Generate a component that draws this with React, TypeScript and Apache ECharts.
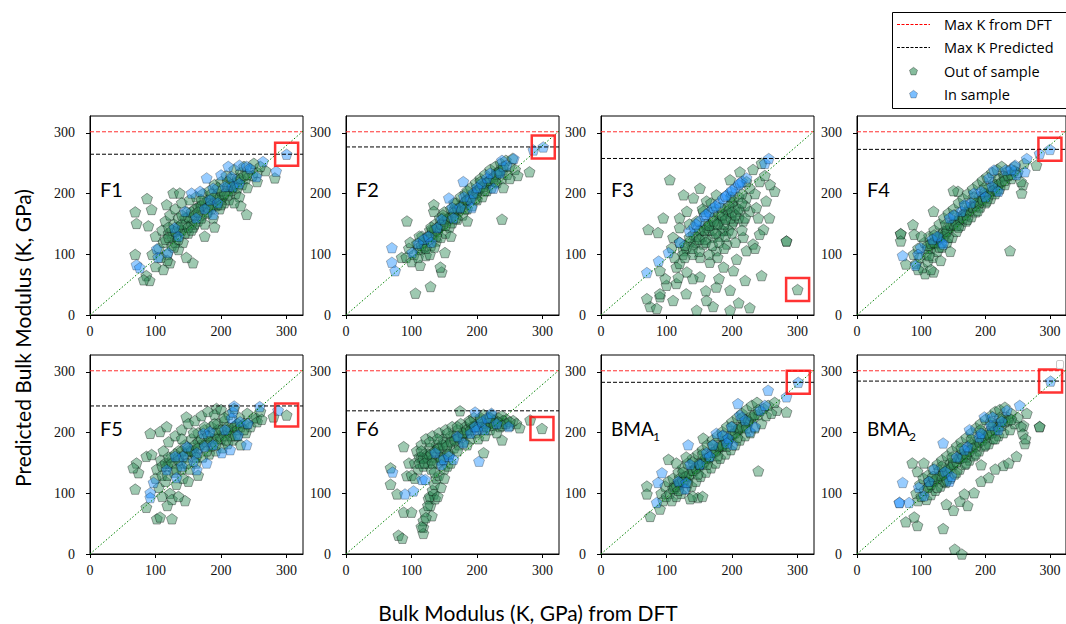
import React, { useEffect, useRef } from "react";
import * as echarts from "echarts";

// ---------------- DATA ----------------
const f1Out = [[87,192],[69,170],[71,151],[89,147],[94,174],[69,100],[86,65],[91,57],[82,58],[157,86],[147,95],[122,86],[239,166],[282,226],[127,201],[137,201],[117,182],[268,238],[255,220],
[100,130],[105,110],[110,140],[112,120],[115,155],[118,100],[120,135],[122,165],[125,115],[128,150],[130,175],[132,130],[135,160],[138,140],[140,185],[142,120],[145,150],[148,170],[150,135],[152,190],[155,160],[158,145],[160,175],[162,195],[165,155],[168,180],[170,165],[172,200],[175,150],[178,185],[180,170],[182,205],[185,190],[188,160],[190,215],[192,180],[195,200],[198,175],[200,220],[202,195],[205,185],[208,230],[210,205],[212,190],[215,225],[218,210],[220,240],[222,200],[225,220],[228,195],[230,235],[232,215],[235,245],[238,225],[240,210],[245,240],[248,230],[250,250],[255,235],[260,245],[112,75],[118,90],[108,95],[135,108],[175,130],[190,145],[230,180],[220,185],[100,80],[95,100],[125,130],[140,140],[155,150],[170,160],[185,175],[200,190],[215,205],[130,120],[145,135],[160,150],[178,168],[195,182],[210,198]];
const f1Core = [[115,125],[120,128],[125,140],[130,138],[135,145],[140,150],[145,160],[150,162],[155,170],[160,165],[165,178],[170,180],[175,185],[180,190],[185,182],[190,195],[195,192],[200,205],[205,200],[210,212],[215,215],[220,218],[225,225],[230,225],[235,230],[240,232],[120,145],[135,125],[150,145],[165,170],[180,178],[195,210],[210,220],[225,210],[140,165],[155,140],[170,190],[185,200],[200,182],[128,112]];
const f1In = [[71,83],[76,78],[102,109],[104,95],[119,103],[129,144],[135,130],[155,201],[168,204],[183,190],[188,209],[200,231],[211,245],[228,247],[239,245],[244,242],[254,228],[216,228],[218,212],[228,217],[206,212],[178,226],[188,166],[162,160],[145,171],[284,237],[264,253],[300,265],[195,185],[175,175]];

const f2Out = [[106,36],[129,47],[93,155],[134,182],[134,171],[238,158],[280,236],[151,103],[146,71],[144,79],[113,82],[111,111],[85,95],
[92,95],[96,110],[100,88],[104,100],[108,118],[110,95],[114,108],[116,130],[120,112],[122,98],[125,125],[128,140],[130,115],[133,130],[136,150],[138,122],[140,138],[143,160],[145,128],[148,148],[150,170],[152,135],[155,158],[158,145],[160,175],[162,152],[165,165],[168,185],[170,158],[172,172],[175,195],[178,165],[180,182],[182,200],[185,175],[188,192],[190,210],[192,180],[195,200],[198,218],[200,190],[203,208],[205,225],[208,195],[210,215],[212,232],[215,205],[218,222],[220,240],[222,210],[225,228],[228,245],[230,218],[233,235],[236,250],[238,225],[240,240],[244,255],[246,232],[250,245],[254,258],[258,240],[262,230],[128,100],[135,112],[112,130],[98,120],[240,210],[250,225],[185,155],[160,130],[118,120],[132,140],[148,160],[166,175],[184,190],[200,205],[216,220],[230,235],[142,145],[175,180]];
const f2Core = [[115,115],[120,125],[125,130],[130,132],[135,140],[140,145],[145,150],[150,155],[155,160],[160,162],[165,170],[170,175],[175,178],[180,185],[185,190],[190,195],[195,198],[200,202],[205,210],[210,212],[215,218],[220,222],[225,225],[230,232],[235,238],[240,245],[122,110],[138,130],[152,148],[168,160],[182,175],[198,192],[212,205],[228,220],[130,145],[148,165],[165,185],[185,205],[205,220]];
const f2In = [[70,111],[70,87],[75,73],[179,220],[157,193],[301,277],[286,272],[238,255],[256,258],[101,103],[118,125],[126,130],[139,144],[146,158],[164,160],[174,177],[190,190],[194,201],[207,217],[215,226],[220,234],[225,209],[235,234],[245,247],[192,177],[162,177],[110,118],[130,120],[180,195],[200,210]];

const f3Out = [[105,223],[72,141],[87,136],[95,160],[265,204],[257,160],[248,141],[245,65],[220,57],[283,122],[283,122],[300,42],[227,12],[197,8],[171,14],[161,24],[146,8],[110,24],[90,30],[75,14],[85,11],[70,27],[90,35],[100,49],[115,52],[115,79],[131,71],[151,63],[176,46],[197,41],[166,87],[187,79],[207,92],[202,73],[222,106],[232,117],[242,133],[217,128],[252,188],[242,220],[212,236],[197,223],[151,209],[141,193],[126,198],[161,188],[176,198],[131,171],[120,160],[108,111],[90,73],[126,106],[141,117],[156,117],[171,128],[187,139],[202,155],[212,171],[222,193],[192,117],[176,106],[151,95],[161,144],[146,155],[181,155],[192,171],[202,188],[171,171],[156,171],[136,122],[110,128],[120,144],[141,133],[151,139],[166,150],[217,155],[227,171],[237,177],[227,209],[222,220],
[150,140],[160,150],[170,160],[180,165],[190,175],[200,185],[165,140],[175,150],[185,160],[195,168],[205,178],[155,130],[145,120],[185,140],[200,150],[210,195],[215,200],[130,110],[125,100],[140,100],[120,120],[135,150],[170,140],[180,130],[195,140],[210,160],[220,180],[235,200],[240,160],[250,230],[258,215],[232,240],[245,250],[180,60],[160,40],[140,60],[130,35],[120,85],[98,60],[210,20],[235,110],[160,125],[175,135],[188,150],[198,160],[128,95],[112,95],[118,62]];
const f3Core = [[145,130],[150,125],[158,140],[165,148],[172,155],[178,150],[185,165],[190,158],[195,180],[200,170],[205,165],[210,175],[215,185],[160,120],[170,115],[180,120],[190,130],[200,135],[140,110],[150,105],[165,100],[178,95],[188,110],[205,120],[215,140],[220,160],[155,175],[168,185],[182,178],[198,195],[135,128],[128,115]];
const f3In = [[70,70],[88,89],[103,103],[120,120],[135,138],[142,145],[150,155],[158,163],[165,170],[172,177],[180,185],[186,192],[192,198],[198,203],[205,210],[210,215],[215,220],[222,226],[250,250],[256,258],[145,150],[160,166],[175,180],[190,196],[200,206],[212,218]];

const f4Out = [[68,134],[68,134],[68,122],[87,149],[89,133],[76,84],[106,68],[119,71],[238,106],[279,247],[256,201],[258,215],[119,171],[157,204],
[88,100],[92,85],[95,110],[98,95],[102,78],[105,120],[108,100],[110,88],[112,130],[115,110],[118,95],[120,140],[122,118],[125,105],[128,150],[130,128],[132,112],[135,160],[138,135],[140,120],[142,168],[145,145],[148,128],[150,175],[152,155],[155,138],[158,185],[160,162],[162,148],[165,192],[168,170],[170,155],[172,200],[175,178],[178,162],[180,208],[182,188],[185,170],[188,215],[190,195],[192,178],[195,222],[198,202],[200,185],[202,228],[205,210],[208,192],[210,235],[212,218],[215,200],[218,240],[220,225],[222,208],[225,245],[228,230],[230,215],[235,238],[240,225],[245,245],[250,235],[255,220],[260,250],[100,130],[95,75],[115,75],[150,205],[130,90],[145,105],[110,110],[125,125],[140,140],[155,155],[170,170],[185,185],[200,200],[215,215],[230,228],[118,120],[135,138],[165,165],[195,192]];
const f4Core = [[110,115],[115,118],[120,120],[125,128],[130,132],[135,130],[140,138],[145,148],[150,150],[155,148],[160,158],[165,160],[170,165],[175,172],[180,178],[185,180],[190,185],[195,190],[200,195],[205,198],[210,205],[215,208],[220,215],[225,220],[230,222],[235,230],[240,232],[245,238],[112,98],[128,112],[142,128],[158,145],[172,158],[188,172],[202,188],[218,205],[120,132],[138,150],[152,165],[168,180],[182,195],[198,210]];
const f4In = [[71,98],[91,82],[99,111],[117,125],[132,120],[134,117],[144,160],[162,171],[167,182],[177,185],[182,201],[193,204],[210,212],[205,226],[220,204],[213,239],[231,239],[246,247],[248,231],[264,258],[284,266],[300,273],[261,236],[95,100],[125,130],[150,165],[200,195],[240,240]];

const f5Out = [[69,107],[86,77],[102,58],[107,61],[125,58],[145,88],[92,199],[107,202],[117,210],[147,226],[71,150],[74,134],[66,142],[86,161],[94,164],[300,229],[280,226],[254,224],[193,240],
[100,125],[102,140],[105,110],[108,155],[110,130],[112,170],[115,120],[118,145],[120,185],[122,100],[125,160],[128,135],[130,195],[132,115],[135,170],[138,150],[140,205],[142,125],[145,180],[148,160],[150,215],[152,140],[155,190],[158,170],[160,220],[162,150],[165,200],[168,180],[170,228],[172,160],[175,205],[178,185],[180,235],[182,165],[185,210],[188,190],[190,230],[192,170],[195,215],[198,195],[200,238],[202,175],[205,220],[208,200],[210,182],[212,230],[215,205],[218,188],[220,240],[222,212],[225,195],[228,225],[230,180],[235,215],[238,200],[240,232],[245,210],[250,225],[255,218],[260,235],[262,222],[125,90],[118,80],[110,95],[135,95],[150,120],[165,130],[120,150],[135,160],[150,170],[165,185],[180,195],[195,205],[210,210],[225,215],[140,140],[160,165],[185,178],[200,190]];
const f5Core = [[110,145],[115,150],[120,160],[125,150],[130,165],[135,155],[140,170],[145,165],[150,175],[155,170],[160,180],[165,175],[170,190],[175,180],[180,195],[185,185],[190,200],[195,190],[200,205],[205,195],[210,205],[215,195],[220,210],[225,205],[230,210],[235,205],[240,215],[118,130],[132,140],[148,150],[162,160],[178,170],[192,180],[208,188],[222,195],[140,190],[158,200],[175,210],[190,215],[205,225]];
const f5In = [[92,101],[92,93],[97,118],[117,139],[132,126],[140,145],[142,161],[148,177],[163,167],[173,199],[175,177],[183,202],[188,180],[201,167],[206,205],[214,172],[216,224],[218,234],[226,196],[229,218],[239,180],[241,215],[259,243],[287,237],[163,139],[178,150],[130,161],[158,153],[220,244]];

const f6Out = [[80,31],[86,26],[88,69],[100,69],[78,99],[68,115],[68,142],[88,177],[96,150],[93,129],[174,236],[118,44],[118,34],[131,63],[129,80],[126,91],[134,99],[136,91],[299,207],[281,221],[238,188],[210,167],
[105,150],[108,170],[110,140],[112,160],[115,180],[118,145],[120,165],[122,190],[125,150],[128,175],[130,140],[132,195],[135,160],[138,180],[140,150],[142,200],[145,170],[148,190],[150,160],[152,205],[155,180],[158,165],[160,195],[162,210],[165,175],[168,190],[170,205],[172,180],[175,215],[178,195],[180,185],[182,210],[185,200],[188,220],[190,190],[192,210],[195,225],[198,200],[200,215],[202,190],[205,222],[208,205],[210,230],[212,195],[215,215],[218,225],[220,205],[222,230],[225,212],[228,220],[230,200],[232,225],[235,210],[238,228],[240,215],[245,222],[250,212],[255,220],[260,215],[265,208],
[120,70],[125,80],[128,95],[132,105],[135,115],[138,125],[142,130],[145,110],[140,95],[118,55],[122,60],[115,45],[150,140],[155,145],[160,150],[100,130],[105,125],[115,160],[125,165],[140,175],[150,185],[165,195],[180,200],[195,210],[210,212],[225,220],[240,220],[130,155],[145,160]];
const f6Core = [[112,150],[118,158],[124,160],[130,165],[136,170],[142,175],[148,180],[154,178],[160,185],[166,188],[172,192],[178,200],[184,205],[190,205],[196,210],[202,210],[208,215],[214,210],[220,218],[226,215],[232,218],[238,212],[244,215],[250,218],[120,150],[132,150],[145,155],[155,165],[170,170],[185,180],[115,170],[128,185],[140,190],[155,200],[170,210],[190,218],[205,225],[220,225],[135,135],[150,125]];
const f6In = [[71,135],[90,99],[103,104],[116,123],[121,123],[136,167],[146,147],[149,156],[157,161],[164,156],[179,183],[190,199],[197,210],[197,234],[200,205],[207,218],[215,224],[222,232],[230,215],[248,210],[203,153],[170,194],[212,205]];

const bma1Out = [[70,112],[70,99],[90,74],[75,62],[103,156],[240,137],[268,237],[283,234],[148,93],[136,91],[156,191],
[92,100],[95,88],[98,112],[100,95],[103,120],[105,100],[108,88],[110,125],[112,108],[115,95],[118,135],[120,115],[122,100],[125,142],[128,122],[130,108],[132,150],[135,130],[138,112],[140,158],[142,138],[145,120],[148,165],[150,145],[152,128],[155,172],[158,152],[160,135],[162,180],[165,160],[168,142],[170,188],[172,168],[175,150],[178,195],[180,175],[182,158],[185,202],[188,182],[190,165],[192,210],[195,190],[198,172],[200,218],[202,198],[205,180],[208,225],[210,205],[212,188],[215,232],[218,212],[220,195],[222,238],[225,218],[228,200],[230,245],[232,225],[235,208],[238,250],[240,230],[245,215],[248,240],[252,228],[255,245],[260,232],[265,250],[140,95],[155,95],[130,160],[115,150],[112,112],[128,128],[144,142],[160,158],[176,172],[192,188],[208,205],[224,220],[120,125],[150,150],[185,178]];
const bma1Core = [[110,108],[115,112],[120,118],[125,120],[130,128],[135,132],[140,138],[145,142],[150,148],[155,150],[160,158],[165,160],[170,168],[175,170],[180,178],[185,180],[190,188],[195,190],[200,198],[205,200],[210,208],[215,210],[220,218],[225,220],[230,228],[235,230],[240,238],[118,105],[132,118],[148,132],[162,148],[178,162],[192,178],[208,192],[222,208],[125,135],[140,152],[155,165],[170,180],[185,195],[200,210],[215,225]];
const bma1In = [[85,85],[87,118],[93,134],[118,120],[128,107],[130,118],[133,180],[136,148],[151,148],[161,167],[171,180],[176,199],[186,196],[194,191],[199,210],[201,180],[209,248],[212,229],[220,221],[227,202],[235,210],[243,237],[250,245],[255,270],[283,259],[301,283],[192,183],[166,161]];

const bma2Out = [[152,8],[163,0],[134,42],[76,53],[94,47],[89,61],[139,82],[150,72],[167,99],[172,80],[182,101],[160,87],[193,120],[205,126],[215,140],[228,146],[236,150],[248,161],[284,210],[284,210],[264,232],[261,182],[259,212],[86,150],[94,136],[104,150],[193,147],
[92,100],[95,88],[98,115],[100,95],[103,125],[105,105],[108,90],[110,130],[112,112],[115,98],[118,140],[120,120],[122,105],[125,148],[128,128],[130,112],[132,155],[135,135],[138,118],[140,162],[142,142],[145,125],[148,170],[150,150],[152,132],[155,178],[158,158],[160,140],[162,185],[165,165],[168,148],[170,192],[172,172],[175,155],[178,200],[180,180],[182,162],[185,208],[188,188],[190,170],[192,215],[195,195],[198,178],[200,222],[202,200],[205,182],[208,228],[210,208],[212,190],[215,235],[218,215],[220,195],[222,238],[225,220],[228,200],[230,242],[235,225],[238,205],[240,232],[245,215],[250,225],[255,210],[258,198],[262,190],[112,120],[128,138],[145,150],[162,165],[178,182],[195,198],[212,212],[228,225],[135,120],[170,160]];
const bma2Core = [[110,110],[115,115],[120,122],[125,125],[130,130],[135,132],[140,138],[145,142],[150,148],[155,152],[160,158],[165,160],[170,165],[175,170],[180,175],[185,178],[190,185],[195,188],[200,192],[205,198],[210,200],[215,205],[220,210],[225,212],[230,218],[235,220],[240,222],[118,128],[132,145],[148,160],[162,175],[178,190],[192,205],[208,218],[222,225],[125,110],[140,122],[155,135],[170,150],[185,165],[200,180],[215,190]];
const bma2In = [[71,118],[66,85],[66,85],[81,85],[104,96],[96,110],[112,120],[134,183],[137,136],[144,120],[147,128],[167,172],[172,177],[175,205],[190,193],[198,226],[208,212],[211,226],[220,205],[225,219],[233,237],[253,245],[301,285],[193,199],[120,140],[155,160]];

const panelNames = ["F1", "F2", "F3", "F4", "F5", "F6", "BMA", "BMA"];
const panelSubs = ["", "", "", "", "", "", "1", "2"];
const maxPredicted = [265, 277, 258, 273, 244, 236, 283, 285];
const maxDft = 302;
const diagEnd = [325, 303];
const highlights = [[300, 265], [301, 277], [300, 42], [300, 273], [300, 229], [299, 207], [301, 283], [301, 285]];
const outData = [f1Out.concat(f1Core), f2Out.concat(f2Core), f3Out.concat(f3Core), f4Out.concat(f4Core), f5Out.concat(f5Core), f6Out.concat(f6Core), bma1Out.concat(bma1Core), bma2Out.concat(bma2Core)];
const inData = [f1In, f2In, f3In, f4In, f5In, f6In, bma1In, bma2In];
const xMax = 325;
const yMax = 328;
const legendLabels = ["Max K from DFT", "Max K Predicted", "Out of sample", "In sample"];

// ---------------- LAYOUT ----------------
const LEFTS = [90, 346, 601, 857];
const TOPS = [116, 355];
const GW = 213;
const GH = 199;
const PENT = "path://M0,-10L9.511,-3.09L5.878,8.09L-5.878,8.09L-9.511,-3.09Z";
const GREEN = "rgba(46,139,87,0.58)";
const BLUE = "rgba(30,144,255,0.58)";
const SERIF = "'Liberation Serif', serif";
const SANS = "Lato, 'Open Sans', sans-serif";

function pentagon(cx: number, cy: number, r: number) {
  const pts: number[][] = [];
  for (let k = 0; k < 5; k++) {
    const a = -Math.PI / 2 + (k * 2 * Math.PI) / 5;
    pts.push([cx + r * Math.cos(a), cy + r * Math.sin(a)]);
  }
  return pts;
}

export default function App() {
  const ref = useRef<HTMLDivElement>(null);
  useEffect(() => {
    if (!ref.current) return;
    const chart = echarts.init(ref.current, undefined, { renderer: "svg" });
    const grids: any[] = [];
    const xAxes: any[] = [];
    const yAxes: any[] = [];
    const series: any[] = [];
    const graphic: any[] = [];

    for (let i = 0; i < 8; i++) {
      const col = i % 4;
      const row = Math.floor(i / 4);
      const left = LEFTS[col];
      const top = TOPS[row];
      grids.push({ left, top, width: GW, height: GH, show: true, borderColor: "#000", borderWidth: 1, backgroundColor: "transparent" });
      xAxes.push({
        gridIndex: i, type: "value", min: 0, max: xMax, interval: 100,
        axisLine: { show: true, onZero: false, lineStyle: { color: "#000", width: 1 } },
        axisTick: { show: true, length: 4, lineStyle: { color: "#000" } },
        axisLabel: { fontFamily: SERIF, fontSize: 14, color: "#111", margin: 9, showMaxLabel: false },
        splitLine: { show: false },
      });
      yAxes.push({
        gridIndex: i, type: "value", min: 0, max: yMax, interval: 100,
        axisLine: { show: true, onZero: false, lineStyle: { color: "#000", width: 1 } },
        axisTick: { show: true, length: 4, lineStyle: { color: "#000" } },
        axisLabel: { fontFamily: SERIF, fontSize: 14, color: "#111", margin: 15, showMaxLabel: false },
        splitLine: { show: false },
      });
      series.push({
        name: "Out of sample", type: "scatter", xAxisIndex: i, yAxisIndex: i,
        data: outData[i], symbol: PENT, symbolSize: [11, 10.5], z: 2,
        itemStyle: { color: GREEN, borderColor: "rgba(0,0,0,0.55)", borderWidth: 0.8 },
      });
      series.push({
        name: "In sample", type: "scatter", xAxisIndex: i, yAxisIndex: i,
        data: inData[i], symbol: PENT, symbolSize: [11, 10.5], z: 3,
        itemStyle: { color: BLUE, borderColor: "rgba(0,0,0,0.4)", borderWidth: 0.8 },
      });
      series.push({
        name: "Max K from DFT", type: "line", xAxisIndex: i, yAxisIndex: i, z: 4, silent: true,
        data: [[0, maxDft], [xMax, maxDft]], symbol: "none",
        lineStyle: { color: "#ff3030", type: [4, 2], width: 1 },
      });
      series.push({
        name: "Max K Predicted", type: "line", xAxisIndex: i, yAxisIndex: i, z: 4, silent: true,
        data: [[0, maxPredicted[i]], [xMax, maxPredicted[i]]], symbol: "none",
        lineStyle: { color: "#000", type: [4, 2], width: 1 },
      });
      series.push({
        name: "diag", type: "line", xAxisIndex: i, yAxisIndex: i, z: 4, silent: true,
        data: [[0, 0], diagEnd], symbol: "none",
        lineStyle: { color: "#008000", type: [1.5, 2], width: 1 },
      });
      series.push({
        name: "highlight", type: "scatter", xAxisIndex: i, yAxisIndex: i,
        data: [highlights[i]], symbol: "rect", symbolSize: 23, z: 5, silent: true,
        itemStyle: { color: "transparent", borderColor: "#ff0000", borderWidth: 2.5 },
      });

      graphic.push({
        type: "text", x: left + 10, y: top + 73, z: 10,
        style: { text: panelNames[i], fontFamily: SANS, fontSize: panelSubs[i] ? 19 : 20, fill: "#000", align: "left", verticalAlign: "middle" },
      });
      if (panelSubs[i]) {
        graphic.push({
          type: "text", x: left + 52, y: top + 81, z: 10,
          style: { text: panelSubs[i], fontFamily: SANS, fontSize: 12, fill: "#000", align: "left", verticalAlign: "middle" },
        });
      }
    }

    graphic.push({
      type: "text", x: 528, y: 612,
      style: { text: "Bulk Modulus (K, GPa) from DFT", fontFamily: SANS, fontSize: 21, fill: "#000", align: "center", verticalAlign: "middle" },
    });
    graphic.push({
      type: "text", x: 22, y: 338, rotation: Math.PI / 2,
      style: { text: "Predicted Bulk Modulus (K, GPa)", fontFamily: SANS, fontSize: 21, fill: "#000", align: "center", verticalAlign: "middle" },
    });

    graphic.push({ type: "rect", shape: { x: 892.5, y: 12.5, width: 190, height: 96 }, style: { fill: "#fff", stroke: "#000", lineWidth: 1 }, z: 20 });
    const ly = [24.5, 47.5, 71.5, 94.5];
    graphic.push({ type: "line", shape: { x1: 897, y1: ly[0], x2: 930, y2: ly[0] }, style: { stroke: "#ff0000", lineWidth: 1, lineDash: [3, 1.5] }, z: 21 });
    graphic.push({ type: "line", shape: { x1: 897, y1: ly[1], x2: 930, y2: ly[1] }, style: { stroke: "#000", lineWidth: 1, lineDash: [3, 1.5] }, z: 21 });
    graphic.push({ type: "polygon", shape: { points: pentagon(913.5, ly[2], 4.2) }, style: { fill: GREEN, stroke: "rgba(0,0,0,0.45)", lineWidth: 0.7 }, z: 21 });
    graphic.push({ type: "polygon", shape: { points: pentagon(913.5, ly[3], 4.2) }, style: { fill: BLUE, stroke: "rgba(0,0,0,0.35)", lineWidth: 0.7 }, z: 21 });
    legendLabels.forEach((t, k) => {
      graphic.push({
        type: "text", x: 944, y: ly[k], z: 21,
        style: { text: t, fontFamily: "'Open Sans', sans-serif", fontSize: 14.5, fill: "#000", align: "left", verticalAlign: "middle" },
      });
    });
    graphic.push({ type: "rect", shape: { x: 1056.5, y: 360.5, width: 7, height: 8, r: 1.5 }, style: { fill: "#fff", stroke: "#c8c8c8", lineWidth: 1 }, z: 21 });

    chart.setOption({
      animation: false,
      backgroundColor: "#fff",
      grid: grids,
      xAxis: xAxes,
      yAxis: yAxes,
      series,
      graphic,
    });
    return () => chart.dispose();
  }, []);
  return <div ref={ref} style={{ position: "fixed", left: 0, top: 0, width: 1066, height: 624, background: "#fff" }} />;
}
